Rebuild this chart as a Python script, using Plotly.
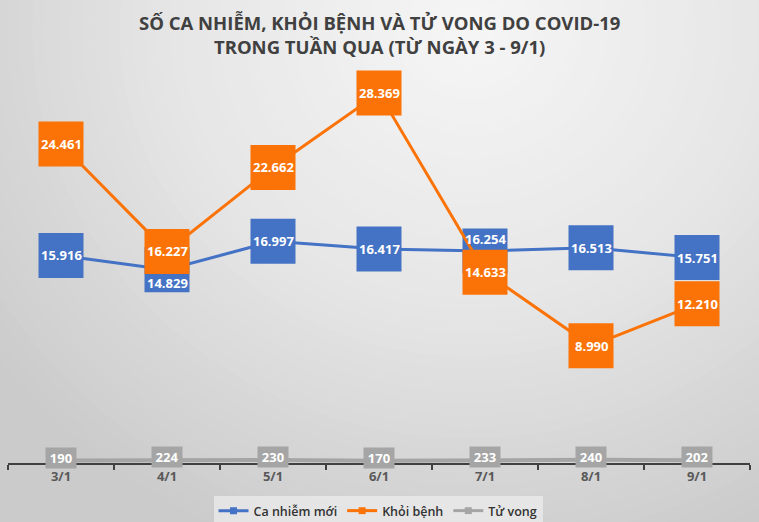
import plotly.graph_objects as go

# ---- data ----
days = ["3/1", "4/1", "5/1", "6/1", "7/1", "8/1", "9/1"]
ca_nhiem = [15916, 14829, 16997, 16417, 16254, 16513, 15751]
khoi_benh = [24461, 16227, 22662, 28369, 14633, 8990, 12210]
tu_vong = [190, 224, 230, 170, 233, 240, 202]
series_names = ["Ca nhiễm mới", "Khỏi bệnh", "Tử vong"]
title_lines = ["SỐ CA NHIỄM, KHỎI BỆNH VÀ TỬ VONG DO COVID-19",
               "TRONG TUẦN QUA (TỪ NGÀY 3 - 9/1)"]

BLUE = "#4472c4"
ORANGE = "#fb7306"
GRAY = "#a5a5a5"
W, H = 759, 522
Y_MAX = 30000
BOX = 45

def fmt(v):
    return f"{v:,}".replace(",", ".")

# plot area geometry (pixels)
x_left, x_right = 8, 750
y_zero, y_top = 463, 71.8
px_per_unit = (y_zero - y_top) / Y_MAX

fig = go.Figure()

# ---- background: radial gradient built from concentric ellipses ----
stops = [(0.0, 246), (0.5, 230), (1.0, 203)]
def grey_at(t):
    for (t0, c0), (t1, c1) in zip(stops[:-1], stops[1:]):
        if t <= t1:
            return c0 + (c1 - c0) * (t - t0) / (t1 - t0)
    return stops[-1][1]

cx, cy, rx, ry = 470, 30, 600, 560
shapes = []
N = 48
for i in range(N, 0, -1):
    t = i / N
    g = int(round(grey_at(t)))
    shapes.append(dict(type="circle", xref="paper", yref="paper", layer="below",
                       x0=(cx - rx * t) / W, x1=(cx + rx * t) / W,
                       y0=1 - (cy + ry * t) / H, y1=1 - (cy - ry * t) / H,
                       line=dict(width=0), fillcolor=f"rgb({g},{g},{g})"))

common = dict(cliponaxis=False, showlegend=False, hoverinfo="skip")

fig.add_trace(go.Scatter(x=days, y=tu_vong, mode="lines",
                         line=dict(color=GRAY, width=4), **common))
fig.add_trace(go.Scatter(x=days, y=ca_nhiem, mode="lines+markers",
                         line=dict(color=BLUE, width=3),
                         marker=dict(symbol="square", size=BOX, color=BLUE), **common))
fig.add_trace(go.Scatter(x=days, y=khoi_benh, mode="lines+markers",
                         line=dict(color=ORANGE, width=3),
                         marker=dict(symbol="square", size=BOX, color=ORANGE), **common))

# legend entries
for name, col in zip(series_names, [BLUE, ORANGE, GRAY]):
    fig.add_trace(go.Scatter(x=[None], y=[None], mode="lines+markers", name=name,
                             line=dict(color=col, width=3),
                             marker=dict(symbol="square", size=7, color=col)))

annotations = []
label_font = dict(family="Open Sans", size=13, color="white", weight="bold")
for d, b, o in zip(days, ca_nhiem, khoi_benh):
    # blue label: keep text inside the visible part of the blue box
    dy = (b - o) * px_per_unit  # >0 means orange is below blue on screen
    shift = 0
    if abs(dy) < BOX:
        if dy < 0:   # orange above blue
            shift = -(BOX / 2 - abs(dy) / 2)
        else:        # orange below blue
            shift = (BOX / 2 - abs(dy) / 2)
    annotations.append(dict(x=d, y=b, xref="x", yref="y", text=fmt(b),
                            showarrow=False, font=label_font, yshift=shift))
    annotations.append(dict(x=d, y=o, xref="x", yref="y", text=fmt(o),
                            showarrow=False, font=label_font))
for d, t in zip(days, tu_vong):
    annotations.append(dict(x=d, y=t, xref="x", yref="y", text=fmt(t),
                            showarrow=False, font=label_font, bgcolor=GRAY,
                            width=30, height=20, borderpad=0, yshift=3))

annotations.append(dict(x=0.5, y=1 - 34 / H, xref="paper", yref="paper",
                        xanchor="center", yanchor="middle", showarrow=False,
                        text="<br>".join(title_lines),
                        font=dict(family="Open Sans", size=18.5,
                                  color="#404040", weight="bold")))

fig.update_layout(
    width=W, height=H,
    margin=dict(l=0, r=0, t=0, b=0, autoexpand=False),
    paper_bgcolor="rgb(203,203,203)", plot_bgcolor="rgba(0,0,0,0)",
    xaxis=dict(domain=[x_left / W, x_right / W], type="category",
               range=[-0.5, len(days) - 0.5], showgrid=False, zeroline=False,
               showline=True, linecolor="#404040", linewidth=2,
               ticks="outside", tickson="boundaries", ticklen=5, tickwidth=2,
               tickcolor="#404040", fixedrange=True,
               tickfont=dict(family="Open Sans", size=13, color="#595959", weight="bold")),
    yaxis=dict(domain=[(H - y_zero) / H, (H - y_top) / H],
               range=[0, Y_MAX], visible=False, fixedrange=True),
    legend=dict(orientation="h", x=378 / W, xanchor="center", y=1 - 496 / H, yanchor="top",
                bgcolor="rgba(238,238,238,0.7)",
                font=dict(family="Open Sans", size=12.5, color="#333333", weight=600),
                itemwidth=30),
    shapes=shapes,
    annotations=annotations,
)

fig.write_html("out.html", config={"displayModeBar": False},
               post_script="document.body.style.margin='0px';document.body.style.overflow='hidden';")
